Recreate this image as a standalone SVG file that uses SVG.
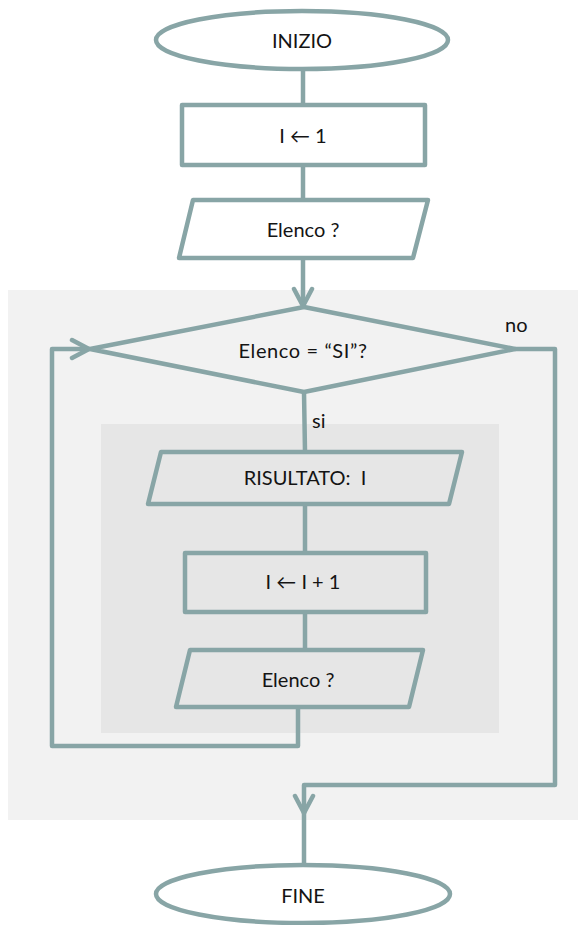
<svg xmlns="http://www.w3.org/2000/svg" width="578" height="925" viewBox="0 0 578 925">
  <defs>
    <style>
      .shape { stroke: #88a5a6; stroke-width: 4.5; stroke-linejoin: round; }
      .line { fill: none; stroke: #88a5a6; stroke-width: 4.5; stroke-linejoin: round; stroke-linecap: round; }
      .label { font-family: "Lato", "Open Sans", "DejaVu Sans", sans-serif; font-size: 20px; fill: #141414; text-anchor: middle; }
      .tag { font-family: "Lato", "Open Sans", "DejaVu Sans", sans-serif; font-size: 20px; fill: #141414; }
    </style>
    <marker id="chev" viewBox="-20 -12 24 24" markerWidth="24" markerHeight="24" refX="0" refY="0" orient="auto" markerUnits="userSpaceOnUse">
      <polyline points="-17,-9 0,0 -17,9" fill="none" stroke="#88a5a6" stroke-width="4.5" stroke-linecap="round" stroke-linejoin="round"/>
    </marker>
  </defs>

  <rect width="578" height="925" fill="#ffffff"/>

  <!-- loop regions -->
  <rect id="loop-outer" x="8" y="290" width="570" height="530" fill="#f2f2f2"/>
  <rect id="loop-inner" x="101" y="424" width="398" height="309" fill="#e6e6e6"/>

  <!-- connectors -->
  <g id="connectors">
    <line class="line" x1="303" y1="70" x2="303" y2="105"/>
    <line class="line" x1="303" y1="165" x2="303" y2="200"/>
    <line class="line" x1="303" y1="258" x2="303" y2="306" marker-end="url(#chev)"/>
    <line class="line" x1="304" y1="392" x2="305" y2="452"/>
    <line class="line" x1="305" y1="504" x2="305" y2="553"/>
    <line class="line" x1="305" y1="612" x2="305" y2="650"/>
    <polyline class="line" points="298,707 298,746 52,746 52,349 89,349" marker-end="url(#chev)"/>
    <polyline class="line" points="515,349 555,349 555,785 304,785 304,813" marker-end="url(#chev)"/>
    <line class="line" x1="304" y1="813" x2="304" y2="864"/>
    <text class="tag" x="505" y="332">no</text>
    <text class="tag" x="312" y="428">si</text>
  </g>

  <!-- nodes -->
  <g id="start">
    <ellipse class="shape" cx="302" cy="40" rx="146" ry="29" fill="#ffffff"/>
    <text class="label" x="302" y="48">INIZIO</text>
  </g>

  <g id="init">
    <rect class="shape" x="182" y="105" width="243" height="60" fill="#ffffff"/>
    <text class="label" x="303" y="143">I ← 1</text>
  </g>

  <g id="read-1">
    <polygon class="shape" points="193,200 428,200 413,258 179,258" fill="#ffffff"/>
    <text class="label" x="303" y="237">Elenco ?</text>
  </g>

  <g id="decision">
    <polygon class="shape" points="304,307 515,349 304,392 90,349" fill="#f2f2f2"/>
    <text class="label" x="303" y="358" letter-spacing="0.6">Elenco = “SI”?</text>
  </g>

  <g id="output">
    <polygon class="shape" points="161,452 462,452 449,504 148,504" fill="#e6e6e6"/>
    <text class="label" x="305" y="485" xml:space="preserve">RISULTATO:  I</text>
  </g>

  <g id="increment">
    <rect class="shape" x="185" y="553" width="241" height="59" fill="#e6e6e6"/>
    <text class="label" x="303" y="589">I ← I + 1</text>
  </g>

  <g id="read-2">
    <polygon class="shape" points="190,650 423,650 409,707 176,707" fill="#e6e6e6"/>
    <text class="label" x="298" y="687">Elenco ?</text>
  </g>

  <g id="end">
    <ellipse class="shape" cx="303" cy="894" rx="147" ry="29" fill="#ffffff"/>
    <text class="label" x="303" y="903">FINE</text>
  </g>
</svg>
